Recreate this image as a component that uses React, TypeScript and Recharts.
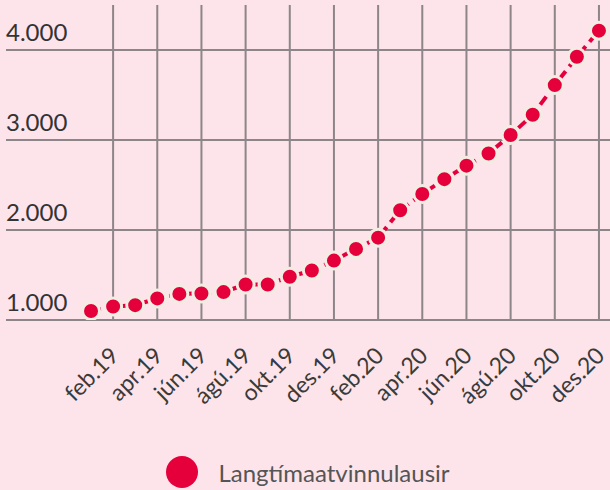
import React from 'react';
import {
  Legend,
  Line,
  LineChart,
  ReferenceLine,
  XAxis,
  YAxis,
} from 'recharts';

const months = [
  'jan.19', 'feb.19', 'mar.19', 'apr.19', 'maí.19', 'jún.19',
  'júl.19', 'ágú.19', 'sep.19', 'okt.19', 'nóv.19', 'des.19',
  'jan.20', 'feb.20', 'mar.20', 'apr.20', 'maí.20', 'jún.20',
  'júl.20', 'ágú.20', 'sep.20', 'okt.20', 'nóv.20', 'des.20',
];

const longTermUnemployed = [
  1100, 1150, 1165, 1240, 1290, 1295,
  1310, 1395, 1395, 1480, 1550, 1660,
  1790, 1915, 2220, 2400, 2565, 2715,
  2850, 3055, 3280, 3610, 3925, 4215,
];

const yTicks = [1000, 2000, 3000, 4000];

const seriesName = 'Langtímaatvinnulausir';

// every other month is labelled, starting at feb.19
const xTicks = months.map((_, i) => i).filter((i) => i % 2 === 1);

const data = months.map((m, i) => ({
  idx: i,
  month: m,
  value: longTermUnemployed[i],
}));

const RED = '#e5003b';
const GRID = '#8d8588';
const FONT = 'Lato, "Noto Sans", sans-serif';

const fmt = (v: number) => String(v).replace(/\B(?=(\d{3})+(?!\d))/g, '.');

const YLabel = ({ viewBox, value }: any) => (
  <text
    x={viewBox.x}
    y={viewBox.y - 9}
    fill="#333"
    fontSize={24}
    fontFamily={FONT}
    textAnchor="start"
  >
    {fmt(value)}
  </text>
);

const XTick = ({ x, y, payload }: any) => (
  <g transform={`translate(${x + 7},${y + 29})`}>
    <text
      x={0}
      y={0}
      fill="#3a3a3a"
      fontSize={23}
      fontFamily={FONT}
      textAnchor="end"
      transform="rotate(-45)"
    >
      {months[payload.value]}
    </text>
  </g>
);

const LegendBox = () => (
  <div
    style={{
      display: 'flex',
      alignItems: 'center',
      justifyContent: 'center',
      height: 36,
      fontFamily: FONT,
    }}
  >
    <span
      style={{
        display: 'inline-block',
        width: 32,
        height: 32,
        borderRadius: '50%',
        background: RED,
        marginRight: 20,
      }}
    />
    <span style={{ fontSize: 24, color: '#555' }}>{seriesName}</span>
  </div>
);

export default function App() {
  return (
    <div
      style={{
        position: 'absolute',
        left: 0,
        top: 0,
        width: 610,
        height: 490,
        background: '#fce4ea',
      }}
    >
      <LineChart
        width={610}
        height={490}
        data={data}
        margin={{ top: 5, right: 0, left: 6, bottom: 0 }}
      >
        <XAxis
          dataKey="idx"
          type="number"
          domain={[-3.85, 23.5]}
          ticks={xTicks}
          allowDataOverflow
          axisLine={false}
          tickLine={false}
          height={134}
          tick={<XTick />}
        />
        <YAxis
          type="number"
          domain={[1000, 4500]}
          ticks={yTicks}
          allowDataOverflow
          hide
        />
        {xTicks.map((t) => (
          <ReferenceLine key={`x${t}`} x={t} stroke={GRID} strokeWidth={2} />
        ))}
        {yTicks.map((t) => (
          <ReferenceLine
            key={`y${t}`}
            y={t}
            stroke={GRID}
            strokeWidth={2}
            label={<YLabel value={t} />}
          />
        ))}
        <Legend verticalAlign="bottom" height={36} content={<LegendBox />} />
        <Line
          type="linear"
          dataKey="value"
          name={seriesName}
          stroke={RED}
          strokeWidth={4}
          strokeDasharray="10 6"
          dot={{ r: 8.5, fill: RED, stroke: '#f1ede2', strokeWidth: 3, strokeDasharray: 'none' }}
          activeDot={false}
          isAnimationActive={false}
        />
      </LineChart>
    </div>
  );
}
